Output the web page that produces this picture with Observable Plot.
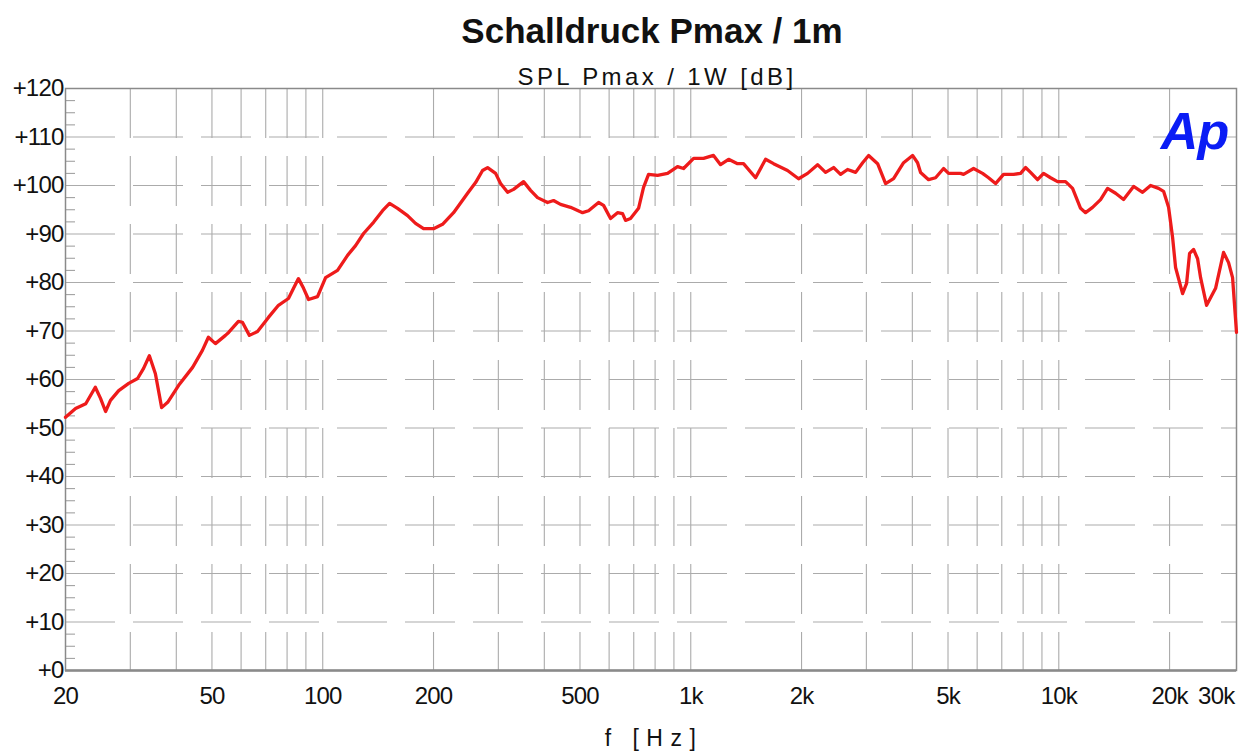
<!DOCTYPE html>
<html>
<head>
<meta charset="utf-8">
<script src="https://cdn.jsdelivr.net/npm/d3@7"></script>
<script src="https://cdn.jsdelivr.net/npm/@observablehq/plot@0.6"></script>
<style>
  html, body { margin: 0; padding: 0; background: #fff; }
  #wrap { position: relative; width: 1244px; height: 751px; overflow: hidden; font-family: "Liberation Sans", Arial, sans-serif; }
  .lbl { position: absolute; left: 0; width: 1244px; text-align: center; line-height: 1; color: #111; white-space: pre; }
  #title { top: 13px; left: 30px; font-size: 35px; font-weight: bold; }
  #subtitle { top: 65px; left: 35px; font-size: 24px; letter-spacing: 3.4px; }
  #xlabel { top: 727px; left: 32px; font-size: 23px; letter-spacing: 7.5px; }
  svg text { letter-spacing: -0.8px; }
</style>
</head>
<body>
<div id="wrap">
  <div id="chart"></div>
  <div class="lbl" id="title">Schalldruck Pmax / 1m</div>
  <div class="lbl" id="subtitle">SPL Pmax / 1W [dB]</div>
  <div class="lbl" id="xlabel">f [Hz]</div>
</div>
<script>
// Frequency (Hz) of each measured point
const freq = [20, 21.3, 22.7, 24.1, 24.9, 25.7, 26.5, 27.9, 29.7, 31.4, 32.6, 33.8, 35.1, 36.5, 37.9,
  40.6, 44.3, 47.1, 48.9, 51.1, 54.4, 55.5, 59.0, 60.5, 63.2, 66.5, 71.2, 75.8, 80.7, 83.3, 85.9, 88.7,
  91.5, 96.8, 101.8, 109.7, 116.8, 122.8, 129.1, 137.4, 145.4, 151.9, 159.7, 170.0, 178.7, 187.9, 200,
  211.6, 226.7, 247.5, 260.2, 271.8, 280.5, 294.9, 304.2, 317.9, 330.0, 351.3, 367.0, 383.4, 408.2,
  423.8, 442.7, 471.3, 508.2, 527.6, 561.7, 579.5, 605.4, 632.5, 652.6, 664.9, 686.0, 721.3, 744.2,
  767.9, 812.5, 864.9, 920.6, 955.9, 1018, 1083, 1153, 1205, 1267, 1340, 1391, 1500, 1597, 1679,
  1832, 1963, 2077, 2211, 2324, 2444, 2553, 2667, 2805, 2931, 3043, 3219, 3384, 3557, 3787, 4006,
  4133, 4212, 4428, 4626, 4863, 5018, 5409, 5511, 5867, 6207, 6444, 6732, 7077, 7535, 7872, 8122,
  8381, 8756, 9091, 9498, 9924, 10432, 10900, 11460, 11824, 12354, 12988, 13570, 14268, 14998,
  15968, 16892, 17760, 18672, 19262, 19876, 20380, 20766, 21696, 22246, 22666, 23242, 23832,
  24284, 25214, 26670, 28036, 28928, 29662, 30400];
// Sound pressure level (dB) at each frequency
const spl = [52.2, 54.0, 55.0, 58.4, 56.1, 53.4, 55.7, 57.7, 59.2, 60.2, 62.3, 64.9, 61.2, 54.2, 55.3,
  58.8, 62.5, 66.0, 68.7, 67.4, 69.1, 69.7, 72.0, 71.8, 69.1, 69.9, 72.8, 75.3, 76.7, 78.8, 80.8, 78.8,
  76.5, 77.1, 81.0, 82.5, 85.6, 87.6, 90.1, 92.4, 94.8, 96.3, 95.3, 93.8, 92.2, 91.1, 91.1,
  92.0, 94.4, 98.4, 100.6, 103.1, 103.7, 102.5, 100.4, 98.6, 99.2, 100.8, 99.0, 97.5, 96.5,
  96.9, 96.1, 95.5, 94.4, 94.8, 96.5, 95.9, 93.2, 94.4, 94.2, 92.8, 93.2, 95.3, 99.6,
  102.3, 102.1, 102.5, 103.9, 103.5, 105.6, 105.6, 106.2, 104.3, 105.4, 104.5, 104.5, 101.6, 105.4, 104.5,
  103.1, 101.4, 102.5, 104.3, 102.7, 103.7, 102.3, 103.3, 102.7, 104.7, 106.2, 104.5, 100.4, 101.4, 104.7, 106.2,
  104.7, 102.7, 101.2, 101.6, 103.5, 102.5, 102.5, 102.3, 103.5, 102.5, 101.6, 100.4, 102.3, 102.3, 102.5, 103.7,
  102.7, 101.2, 102.5, 101.6, 100.8, 100.8, 99.4, 95.3, 94.4, 95.5, 97.1, 99.4, 98.4, 97.1,
  99.8, 98.6, 100.0, 99.4, 98.8, 95.5, 89.3, 83.1, 77.7, 79.8, 86.0, 86.8, 84.9,
  81.0, 75.3, 78.8, 86.2, 84.1, 81.0, 69.7];

const xTickValues = [20, 50, 100, 200, 500, 1000, 2000, 5000, 10000, 20000];
const xTickLabels = ["20", "50", "100", "200", "500", "1k", "2k", "5k", "10k", "20k"];
const xLastTick = [30000];
const xLastLabel = ["30k"];
const xGridValues = [30, 40, 50, 60, 70, 80, 90, 100, 200, 300, 400, 500, 600, 700, 800, 900,
  1000, 2000, 3000, 4000, 5000, 6000, 7000, 8000, 9000, 10000, 20000];
const yTickValues = [0, 10, 20, 30, 40, 50, 60, 70, 80, 90, 100, 110, 120];
const yGridValues = [10, 20, 30, 40, 50, 60, 70, 80, 90, 100, 110];
const yMinorValues = d3.range(2.5, 120, 2.5).filter(v => v % 10 !== 0);
const logoText = ["Ap"];

const data = freq.map((f, i) => ({f, db: spl[i]}));

const gridColor = "#ababab";
const plot = Plot.plot({
  width: 1244,
  height: 751,
  marginLeft: 65,
  marginRight: 8,
  marginTop: 88,
  marginBottom: 81,
  style: {fontFamily: "'Liberation Sans', Arial, sans-serif", background: "#fff", overflow: "visible"},
  x: {type: "log", domain: [20, 30400], axis: null},
  y: {domain: [0, 120], axis: null},
  marks: [
    Plot.ruleX(xGridValues, {x: d => d, y1: 0, y2: 120, stroke: gridColor, strokeWidth: 1.1,
      strokeDasharray: "50,18", strokeDashoffset: 12}),
    Plot.ruleY(yGridValues, {y: d => d, x1: 20, x2: 30400, stroke: gridColor, strokeWidth: 1.1,
      strokeDasharray: "50,18"}),
    Plot.tickY(yMinorValues, {y: d => d, stroke: "#999", strokeWidth: 1, insetRight: 1161}),
    Plot.frame({stroke: "#8a8a8a", strokeWidth: 1.5}),
    Plot.ruleY([0], {stroke: "#8a8a8a", strokeWidth: 2.5}),
    Plot.line(data, {x: "f", y: "db", stroke: "#ee1b1b", strokeWidth: 3.3, strokeLinejoin: "round"}),
    Plot.text(yTickValues, {x: 20, y: d => d, text: d => "+" + d, textAnchor: "end", dx: -2,
      fontSize: 24, fill: "#111"}),
    Plot.text(xTickValues, {x: d => d, y: 0, text: (d, i) => xTickLabels[i], dy: 26,
      fontSize: 24, fill: "#111"}),
    Plot.text(xLastTick, {x: d => d, y: 0, text: (d, i) => xLastLabel[i], dy: 26, textAnchor: "end",
      fontSize: 24, fill: "#111"}),
    Plot.text(logoText, {frameAnchor: "top-right", text: d => d, dx: -8, dy: 24, fontSize: 52,
      fontWeight: "bold", fontStyle: "italic", fill: "#0a1cf5"})
  ]
});
document.getElementById("chart").appendChild(plot);
</script>
</body>
</html>
